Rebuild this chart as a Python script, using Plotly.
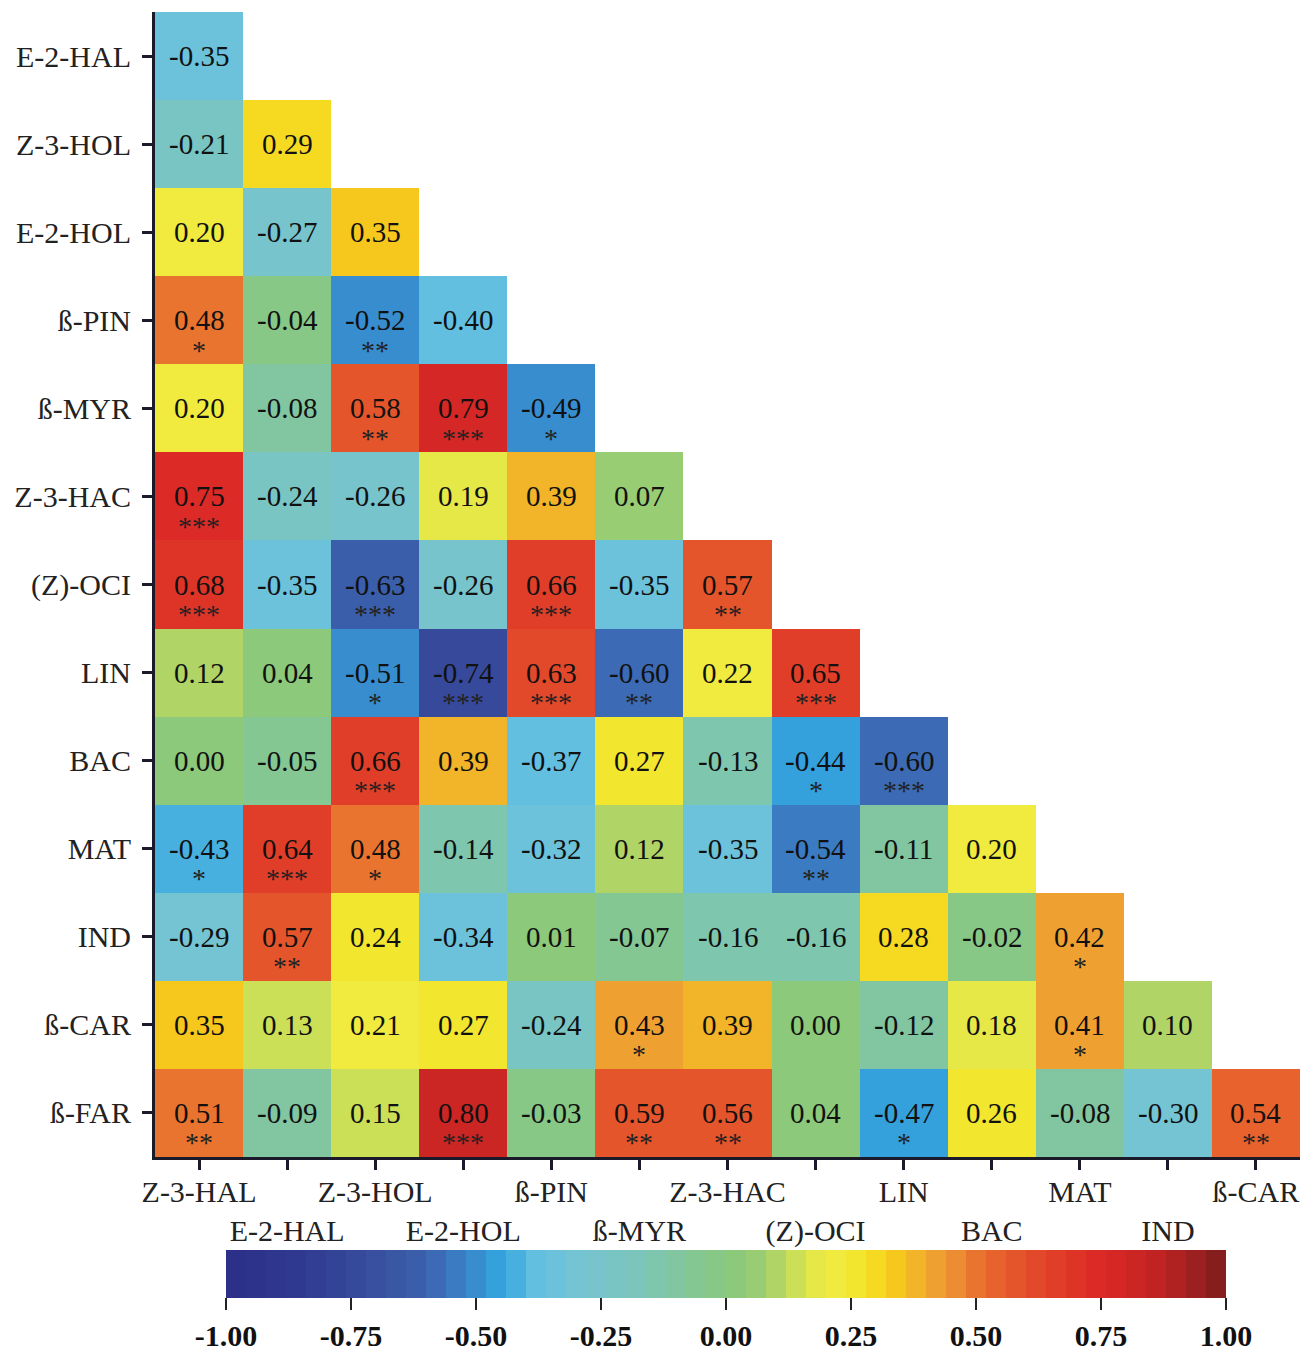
import plotly.graph_objects as go

rows = ["E-2-HAL", "Z-3-HOL", "E-2-HOL", "ß-PIN", "ß-MYR", "Z-3-HAC", "(Z)-OCI",
        "LIN", "BAC", "MAT", "IND", "ß-CAR", "ß-FAR"]
cols = ["Z-3-HAL", "E-2-HAL", "Z-3-HOL", "E-2-HOL", "ß-PIN", "ß-MYR", "Z-3-HAC",
        "(Z)-OCI", "LIN", "BAC", "MAT", "IND", "ß-CAR"]

values = [
    [-0.35],
    [-0.21, 0.29],
    [0.20, -0.27, 0.35],
    [0.48, -0.04, -0.52, -0.40],
    [0.20, -0.08, 0.58, 0.79, -0.49],
    [0.75, -0.24, -0.26, 0.19, 0.39, 0.07],
    [0.68, -0.35, -0.63, -0.26, 0.66, -0.35, 0.57],
    [0.12, 0.04, -0.51, -0.74, 0.63, -0.60, 0.22, 0.65],
    [0.00, -0.05, 0.66, 0.39, -0.37, 0.27, -0.13, -0.44, -0.60],
    [-0.43, 0.64, 0.48, -0.14, -0.32, 0.12, -0.35, -0.54, -0.11, 0.20],
    [-0.29, 0.57, 0.24, -0.34, 0.01, -0.07, -0.16, -0.16, 0.28, -0.02, 0.42],
    [0.35, 0.13, 0.21, 0.27, -0.24, 0.43, 0.39, 0.00, -0.12, 0.18, 0.41, 0.10],
    [0.51, -0.09, 0.15, 0.80, -0.03, 0.59, 0.56, 0.04, -0.47, 0.26, -0.08, -0.30, 0.54],
]

stars = [
    [""],
    ["", ""],
    ["", "", ""],
    ["*", "", "**", ""],
    ["", "", "**", "***", "*"],
    ["***", "", "", "", "", ""],
    ["***", "", "***", "", "***", "", "**"],
    ["", "", "*", "***", "***", "**", "", "***"],
    ["", "", "***", "", "", "", "", "*", "***"],
    ["*", "***", "*", "", "", "", "", "**", "", ""],
    ["", "**", "", "", "", "", "", "", "", "", "*"],
    ["", "", "", "", "", "*", "", "", "", "", "*", ""],
    ["**", "", "", "***", "", "**", "**", "", "*", "", "", "", "**"],
]

cbar_ticks = [-1.0, -0.75, -0.5, -0.25, 0.0, 0.25, 0.5, 0.75, 1.0]

anchors = [
    (-1.00, "#2b2f87"), (-0.85, "#2f3a90"), (-0.72, "#374c9c"), (-0.60, "#3c62ad"),
    (-0.52, "#3a84c8"), (-0.45, "#33a5df"), (-0.38, "#62bfe0"), (-0.30, "#74c4d4"),
    (-0.18, "#7cc5bc"), (-0.06, "#84c792"), (0.02, "#8cc97b"), (0.06, "#98cd74"),
    (0.10, "#b0d566"), (0.13, "#c3dc5c"), (0.17, "#e3e749"), (0.22, "#f0eb3e"),
    (0.28, "#f5e326"), (0.33, "#f7cd1c"), (0.36, "#f4bd22"), (0.40, "#efaa2e"),
    (0.44, "#ed9735"), (0.52, "#e8692d"), (0.62, "#e2482a"),
    (0.75, "#dc2826"), (0.87, "#bf2322"), (1.00, "#7c1d1d"),
]


def hex2rgb(h):
    return tuple(int(h[i:i + 2], 16) for i in (1, 3, 5))


def color_at(v):
    for (v0, c0), (v1, c1) in zip(anchors[:-1], anchors[1:]):
        if v0 <= v <= v1:
            t = (v - v0) / (v1 - v0) if v1 > v0 else 0
            a, b = hex2rgb(c0), hex2rgb(c1)
            return "rgb(%d,%d,%d)" % tuple(round(a[k] + (b[k] - a[k]) * t) for k in range(3))
    return anchors[-1][1]


# banded colour scale like the reference colour bar
nb = 50
colorscale = []
for i in range(nb):
    c = color_at(-1 + (i + 0.5) * 2 / nb)
    colorscale.append([i / nb, c])
    colorscale.append([(i + 1) / nb, c])

n = len(rows)
z = [[values[i][j] if j < len(values[i]) else None for j in range(len(cols))] for i in range(n)]

fig = go.Figure()
fig.add_trace(go.Heatmap(
    z=z, x=cols, y=rows, zmin=-1, zmax=1, colorscale=colorscale,
    hoverongaps=False,
    colorbar=dict(
        orientation="h", x=0.4987, xanchor="center", y=-0.0812, yanchor="top",
        len=0.8734, lenmode="fraction", thickness=48, thicknessmode="pixels",
        xpad=0, ypad=0,
        outlinewidth=0, tickvals=cbar_ticks, ticktext=["%.2f" % t for t in cbar_ticks],
        ticks="outside", ticklen=12, tickwidth=2, tickcolor="#222",
        tickfont=dict(family="Liberation Serif", size=30, color="#111", weight="bold"),
    ),
))

annotations = []
for i, r in enumerate(rows):
    for j, v in enumerate(values[i]):
        annotations.append(dict(x=cols[j], y=r, text="%.2f" % v, showarrow=False,
                                font=dict(family="Liberation Serif", size=29, color="#111")))
        if stars[i][j]:
            annotations.append(dict(x=cols[j], y=r, text=stars[i][j], showarrow=False, yshift=-30,
                                    font=dict(family="Liberation Serif", size=28, color="#222")))

xticktext = [c if k % 2 == 0 else "<br>" + c for k, c in enumerate(cols)]

fig.update_layout(
    width=1306, height=1344,
    margin=dict(l=147, r=14, t=4, b=195, autoexpand=False),
    paper_bgcolor="white", plot_bgcolor="white",
    annotations=annotations,
    xaxis=dict(tickvals=cols, ticktext=xticktext, tickangle=0, automargin=False,
               showline=True, linewidth=3, ticklabelstandoff=-4,
               linecolor="#1a1a2a", ticks="outside", ticklen=10, tickwidth=3,
               tickcolor="#1a1a2a", showgrid=False, zeroline=False,
               tickfont=dict(family="Liberation Serif", size=30, color="#222")),
    yaxis=dict(autorange="reversed", automargin=False, showline=True, linewidth=3,
               linecolor="#1a1a2a", ticklabelstandoff=5,
               ticks="outside", ticklen=10, tickwidth=3, tickcolor="#1a1a2a",
               showgrid=False, zeroline=False,
               tickfont=dict(family="Liberation Serif", size=30, color="#222")),
)

fig.write_html("out.html")
